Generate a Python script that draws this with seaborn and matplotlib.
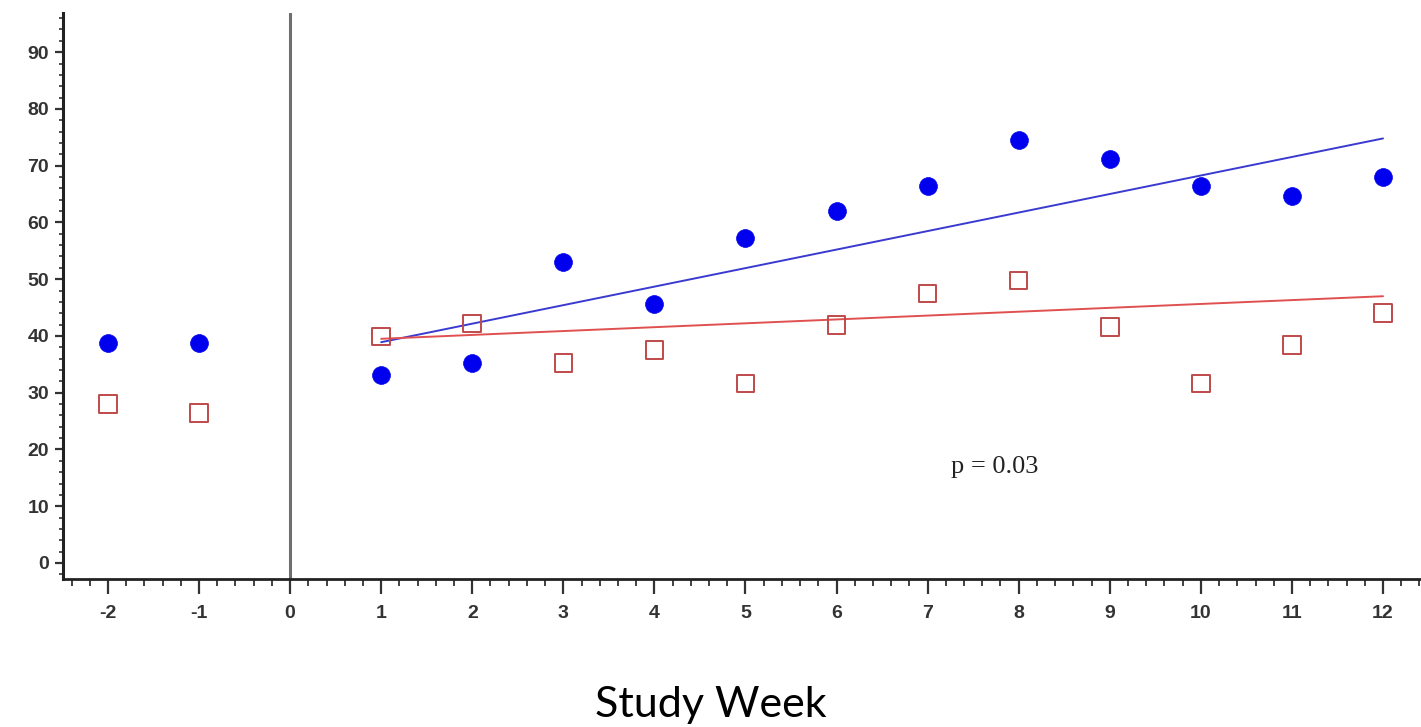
import matplotlib
matplotlib.use("Agg")
import matplotlib.pyplot as plt
import seaborn as sns
import pandas as pd
from matplotlib.ticker import MultipleLocator

# ---- data ----
weeks = [-2, -1, 1, 2, 3, 4, 5, 6, 7, 8, 9, 10, 11, 12]
group_a = [38.7, 38.8, 33.1, 35.2, 53.1, 45.7, 57.2, 62.0, 66.4, 74.6, 71.1, 66.4, 64.6, 68.0]
group_b = [28.0, 26.4, 39.9, 42.2, 35.2, 37.5, 31.6, 41.9, 47.5, 49.8, 41.6, 31.6, 38.4, 44.0]
fit_weeks = [1, 12]
fit_a = [38.9, 74.8]
fit_b = [39.5, 47.0]
x_ticks = list(range(-2, 13))
y_ticks = list(range(0, 100, 10))
x_label = "Study Week"
annotation = "p = 0.03"

sns.set_style("ticks")
plt.rcParams["font.family"] = ["Liberation Sans Narrow", "Liberation Sans", "DejaVu Sans"]
plt.rcParams["axes.unicode_minus"] = False

fig = plt.figure(figsize=(14.21, 7.27), dpi=100)
ax = fig.add_axes([0.0443, 0.2036, 0.9557, 0.7785])

df_a = pd.DataFrame({"week": weeks, "value": group_a})
df_b = pd.DataFrame({"week": weeks, "value": group_b})
fa = pd.DataFrame({"week": fit_weeks, "value": fit_a})
fb = pd.DataFrame({"week": fit_weeks, "value": fit_b})

ax.axvline(0, color="#6e6e6e", lw=2.2, zorder=1)

sns.lineplot(data=fa, x="week", y="value", ax=ax, color="#3a3ad0", lw=1.4, zorder=2)
sns.lineplot(data=fb, x="week", y="value", ax=ax, color="#e05050", lw=1.4, zorder=2)

sns.scatterplot(data=df_a, x="week", y="value", ax=ax, marker="o", s=165,
                color="#0000ee", edgecolor="#0000ee", linewidth=0.5, zorder=3)
sns.scatterplot(data=df_b, x="week", y="value", ax=ax, marker="s", s=160,
                facecolor="none", edgecolor="#c04a4a", linewidth=1.4, zorder=3)

ax.set_xlim(-2.494, 12.417)
ax.set_ylim(-2.82, 96.9)
ax.set_xticks(x_ticks)
ax.set_yticks(y_ticks)
ax.xaxis.set_minor_locator(MultipleLocator(0.2))
ax.yaxis.set_minor_locator(MultipleLocator(2))

for s in ["top", "right"]:
    ax.spines[s].set_visible(False)
ax.spines["left"].set_linewidth(2.2)
ax.spines["bottom"].set_linewidth(2.0)
ax.spines["left"].set_color("#222222")
ax.spines["bottom"].set_color("#222222")

ax.tick_params(axis="x", which="major", bottom=True, direction="out", length=11, width=1.6,
               color="#333333", labelsize=14, labelcolor="#333333", pad=8)
ax.tick_params(axis="x", which="minor", bottom=True, direction="out", length=5, width=1.3,
               color="#333333")
ax.tick_params(axis="y", which="major", left=True, direction="out", length=6, width=1.6,
               color="#333333", labelsize=14, labelcolor="#333333", pad=4)
ax.tick_params(axis="y", which="minor", left=True, direction="out", length=3, width=1.2,
               color="#333333")
for lbl in ax.get_xticklabels() + ax.get_yticklabels():
    lbl.set_fontweight("bold")

ax.set_xlabel("")
ax.set_ylabel("")

ax.text(7.74, 16.9, annotation, ha="center", va="center",
        fontsize=19, family=["Liberation Serif", "DejaVu Serif"], color="#222222")

fig.text(0.5, 0.03, x_label, ha="center", va="center", fontsize=31,
         family=["Lato", "DejaVu Sans"], color="black")

fig.savefig("out.png", dpi=100)
